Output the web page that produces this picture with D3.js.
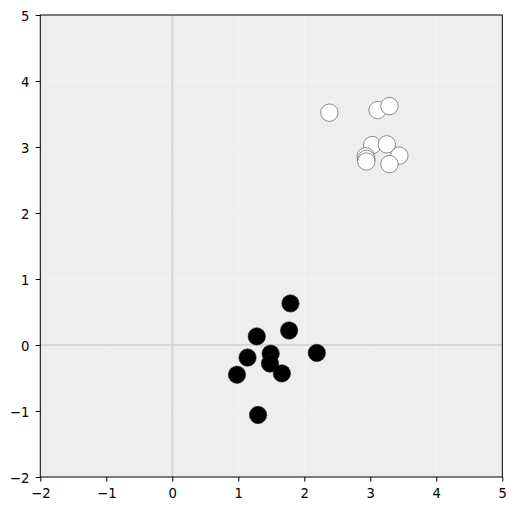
<!DOCTYPE html>
<html><head><meta charset="utf-8">
<script src="https://cdn.jsdelivr.net/npm/d3@7"></script>
<style>body{margin:0;background:#fff}svg{display:block}</style>
</head><body>
<script>
const whiteX = [2.38, 3.11, 3.29, 3.03, 3.25, 3.44, 2.93, 2.94, 2.94, 3.29];
const whiteY = [3.52, 3.56, 3.62, 3.03, 3.04, 2.87, 2.86, 2.82, 2.78, 2.74];
const blackX = [1.79, 1.77, 1.28, 2.19, 1.49, 1.48, 1.14, 1.66, 0.98, 1.30];
const blackY = [0.63, 0.22, 0.13, -0.12, -0.13, -0.28, -0.19, -0.43, -0.45, -1.06];
const xTicks = [-2, -1, 0, 1, 2, 3, 4, 5];
const yTicks = [-2, -1, 0, 1, 2, 3, 4, 5];

const W = 516, H = 511;
const L = 40.3, R = 502.3, T = 15, B = 477;
const svg = d3.select("body").append("svg").attr("width", W).attr("height", H);
const x = d3.scaleLinear().domain([-2, 5]).range([L, R]);
const y = d3.scaleLinear().domain([-2, 5]).range([B, T]);

svg.append("rect").attr("x", L).attr("y", T).attr("width", R - L).attr("height", B - T).attr("fill", "#eeeeee");

// faint grid
const g = svg.append("g");
g.selectAll(".gx").data(xTicks).enter().append("line")
  .attr("x1", d => x(d)).attr("x2", d => x(d)).attr("y1", T).attr("y2", B)
  .attr("stroke", "#f3f3f3").attr("stroke-width", 1);
g.selectAll(".gy").data(yTicks).enter().append("line")
  .attr("y1", d => y(d)).attr("y2", d => y(d)).attr("x1", L).attr("x2", R)
  .attr("stroke", "#f3f3f3").attr("stroke-width", 1);
// zero lines
g.append("line").attr("x1", x(0)).attr("x2", x(0)).attr("y1", T).attr("y2", B)
  .attr("stroke", "#d6d6d6").attr("stroke-width", 2);
g.append("line").attr("y1", y(0)).attr("y2", y(0)).attr("x1", L).attr("x2", R)
  .attr("stroke", "#d6d6d6").attr("stroke-width", 2);

const r = 8.7;
svg.append("g").selectAll("circle").data(blackX.map((v, i) => [v, blackY[i]])).enter().append("circle")
  .attr("cx", d => x(d[0])).attr("cy", d => y(d[1])).attr("r", r)
  .attr("fill", "#000").attr("stroke", "#222").attr("stroke-width", 0.6);
svg.append("g").selectAll("circle").data(whiteX.map((v, i) => [v, whiteY[i]])).enter().append("circle")
  .attr("cx", d => x(d[0])).attr("cy", d => y(d[1])).attr("r", r)
  .attr("fill", "#fff").attr("stroke", "#444").attr("stroke-width", 0.6);

// spines
svg.append("rect").attr("x", L).attr("y", T).attr("width", R - L).attr("height", B - T)
  .attr("fill", "none").attr("stroke", "#000").attr("stroke-width", 1);

const fmt = d => (d < 0 ? "\u2212" + Math.abs(d) : String(d));
const xa = svg.append("g").attr("transform", `translate(0,${B})`)
  .call(d3.axisBottom(x).tickValues(xTicks).tickFormat(fmt).tickSize(4.6));
const ya = svg.append("g").attr("transform", `translate(${L},0)`)
  .call(d3.axisLeft(y).tickValues(yTicks).tickFormat(fmt).tickSize(4.6));
[xa, ya].forEach(a => {
  a.select(".domain").remove();
  a.selectAll("line").attr("stroke", "#000").attr("stroke-width", 1);
  a.selectAll("text").attr("font-family", "DejaVu Sans").attr("font-size", "13.2px").attr("fill", "#000");
});
xa.selectAll("text").attr("y", 21.4).attr("dy", 0);
ya.selectAll("text").attr("x", -11).attr("dy", "0.42em");
</script>
</body></html>
